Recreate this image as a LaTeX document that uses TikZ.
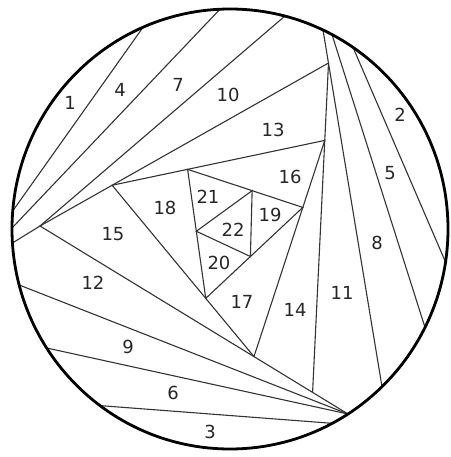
\documentclass[tikz,border=0pt]{standalone}
\usepackage{fontspec}
\setmainfont{DejaVu Sans}
\usetikzlibrary{calc}

\begin{document}
\begin{tikzpicture}[x=1pt, y=-1pt,
    seam/.style={line width=1.1pt, black!80},
    num/.style={font=\fontsize{18}{18}\selectfont, text=black!85, inner sep=0pt}]
  \useasboundingbox (0,0) rectangle (450,457);

  % points on the rim
  \coordinate (c1a) at (143,27.3);  \coordinate (c1b) at (12.7,211);
  \coordinate (c4a) at (220,9.2);   \coordinate (c4b) at (12,228);
  \coordinate (c7a) at (285,16);    \coordinate (c7b) at (12.4,243);
  \coordinate (c2a) at (353,47.3);  \coordinate (c2b) at (445.5,262);
  \coordinate (c5a) at (332,34.6);  \coordinate (c5b) at (425,327.4);
  \coordinate (c8a) at (323,30);    \coordinate (c8b) at (382,386.7);
  \coordinate (c3a) at (100,405.6); \coordinate (c3b) at (332,423.3);
  \coordinate (c6a) at (46.7,348);  \coordinate (c9a) at (19.2,285);
  \coordinate (vb) at (348,414);

  % the spiral of triangles
  \coordinate (vl) at (40,226);
  \coordinate (vt) at (328.5,63);
  \coordinate (v3) at ($(vl)!0.885!(vb)$);
  \coordinate (w1) at ($(vl)!0.25!(vt)$);
  \coordinate (w2) at ($(vt)!0.235!(v3)$);
  \coordinate (w3) at ($(v3)!0.215!(vl)$);
  \coordinate (x1) at ($(w1)!0.355!(w2)$);
  \coordinate (x2) at ($(w2)!0.31!(w3)$);
  \coordinate (x3) at ($(w3)!0.34!(w1)$);
  \coordinate (y1) at ($(x1)!0.56!(x2)$);
  \coordinate (y2) at ($(x2)!0.54!(x3)$);
  \coordinate (y3) at ($(x3)!0.52!(x1)$);

  \draw[seam] (c1a) -- (c1b);
  \draw[seam] (c4a) -- (c4b);
  \draw[seam] (c7a) -- (vl) -- (c7b);
  \draw[seam] (c2a) -- (c2b);
  \draw[seam] (c5a) -- (c5b);
  \draw[seam] (c8a) -- (c8b);
  \draw[seam] (c3a) -- (c3b);
  \draw[seam] (c6a) -- (vb);
  \draw[seam] (c9a) -- (vb);
  \draw[seam] (vt) -- (vl) -- (vb);
  \draw[seam] (vt) -- (v3);
  \draw[seam] (w1) -- (w2) -- (w3) -- cycle;
  \draw[seam] (x1) -- (x2) -- (x3) -- cycle;
  \draw[seam] (y1) -- (y2) -- (y3) -- cycle;

  \draw[line width=2.8pt] (230,229) ellipse [x radius=218pt, y radius=220pt];

  \node[num] (n1) at (70,103) {1};
  \node[num] (n2) at (400,115) {2};
  \node[num] (n3) at (210,432) {3};
  \node[num] (n4) at (120,90) {4};
  \node[num] (n5) at (390,173) {5};
  \node[num] (n6) at (173,393) {6};
  \node[num] (n7) at (178,85) {7};
  \node[num] (n8) at (377,243) {8};
  \node[num] (n9) at (128,347) {9};
  \node[num] (n10) at (228,95) {10};
  \node[num] (n11) at (342,293) {11};
  \node[num] (n12) at (93,283) {12};
  \node[num] (n13) at (273,130) {13};
  \node[num] (n14) at (295,310) {14};
  \node[num] (n15) at (113,234) {15};
  \node[num] (n16) at (290,177) {16};
  \node[num] (n17) at (242,302) {17};
  \node[num] (n18) at (165,208) {18};
  \node[num] (n19) at (270,215) {19};
  \node[num] (n20) at (219,263) {20};
  \node[num] (n21) at (208,197) {21};
  \node[num] (n22) at (233,230) {22};
\end{tikzpicture}
\end{document}
